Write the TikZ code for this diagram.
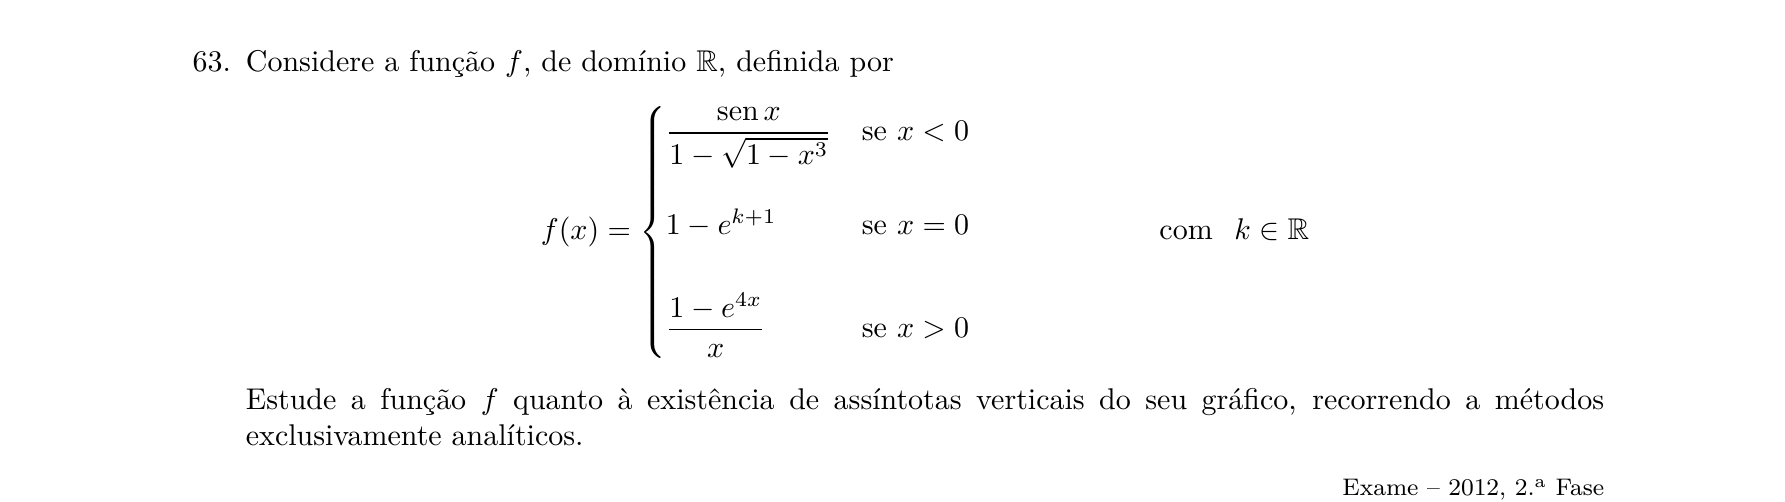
\documentclass[tikz,border=0pt]{standalone}
\usepackage{amsmath,amssymb}
\usepackage{fontspec}
\tikzset{txt/.style={inner sep=0pt, outer sep=0pt}}
\begin{document}
\begin{tikzpicture}[x=1pt,y=1pt]
\useasboundingbox[fill=white] (0,0) rectangle (595.3,-167.1);
\node[txt, anchor=base east] (num) at (77,-24) {63.};
\node[txt, anchor=base west] (intro) at (82,-24) {Considere a função $f$, de domínio $\mathbb{R}$, definida por};
\node[txt, anchor=base] (eq) at (308.5,-80) {$\displaystyle f(x)=\begin{cases}\dfrac{\operatorname{sen} x}{1-\sqrt{1-x^3}} & \text{se }x<0\\[17pt]
1-e^{k+1} & \text{se }x=0\\[15pt]
\dfrac{1-e^{4x}}{x} & \text{se }x>0\end{cases}\hspace{60.6pt}\text{com}\hspace{7.2pt}k\in\mathbb{R}$};
\node[txt, anchor=base west] (body) at (82,-136.5) {\parbox[t]{453pt}{Estude a função $f$ quanto à existência de assíntotas verticais do seu gráfico, recorrendo a métodos\linebreak exclusivamente analíticos.}};
\node[txt, anchor=base east] (src) at (535,-165.4) {\footnotesize Exame -- 2012, 2.\textsuperscript{a} Fase};
\end{tikzpicture}
\end{document}
